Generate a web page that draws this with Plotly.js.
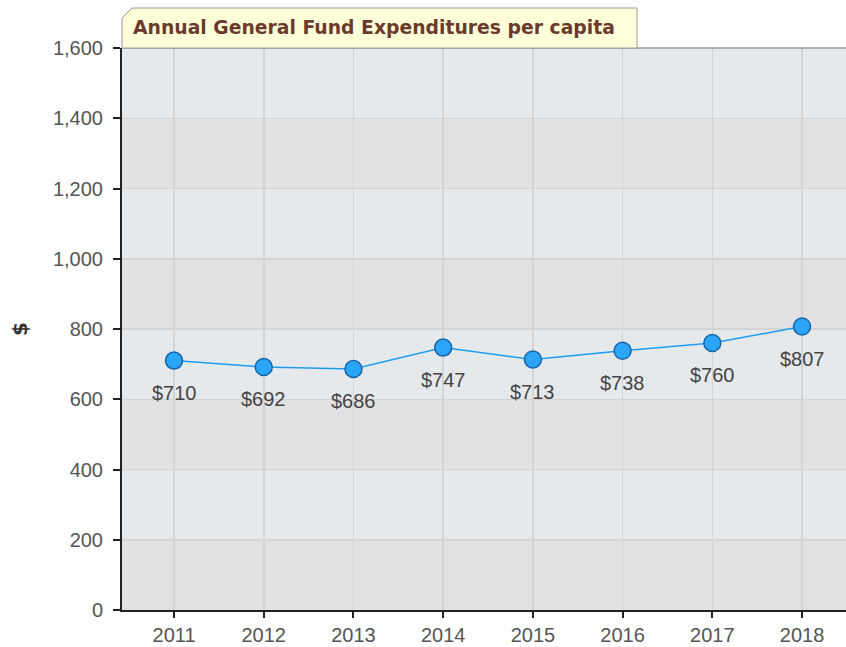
<!DOCTYPE html>
<html>
<head>
<meta charset="utf-8">
<script src="https://cdn.plot.ly/plotly-3.0.1.min.js"></script>
<style>html,body{margin:0;padding:0;background:#fff;}#chart{width:846px;height:647px;}</style>
</head>
<body>
<div id="chart"></div>
<script>
const years = ["2011","2012","2013","2014","2015","2016","2017","2018"];
const perCapita = [710, 692, 686, 747, 713, 738, 760, 807];
const dataLabels = ["$710","$692","$686","$747","$713","$738","$760","$807"];
const yTicks = [0, 200, 400, 600, 800, 1000, 1200, 1400, 1600];
const yTickText = ["0","200","400","600","800","1,000","1,200","1,400","1,600"];
const chartTitle = "Annual General Fund Expenditures per capita";
const yTitle = "$";

const bandShapes = [];
for (let i = 0; i < yTicks.length - 1; i++) {
  bandShapes.push({
    type: 'rect', xref: 'paper', yref: 'y', layer: 'below',
    x0: 0, x1: 1, y0: yTicks[i], y1: yTicks[i + 1],
    fillcolor: (i % 2 === 0) ? '#e2e2e4' : '#e6e9ec',
    line: {width: 0}
  });
}

const plotH = 562, plotW = 724;
const boxRight = (637 - 122) / plotW;
const boxTop = 1 + 40 / plotH;
const chX = 10 / plotW, chY = 10 / plotH;

const shapes = bandShapes.concat([
  {type: 'line', xref: 'paper', yref: 'paper', x0: 0, x1: 1, y0: 1, y1: 1,
   line: {color: '#9a9a9a', width: 1.5}},
  {type: 'path', xref: 'paper', yref: 'paper',
   path: `M 0 1 L 0 ${boxTop - chY} L ${chX} ${boxTop} L ${boxRight} ${boxTop} L ${boxRight} 1 Z`,
   fillcolor: '#ffffd9', line: {color: '#9a9a9a', width: 1}}
]);

const trace = {
  x: years, y: perCapita,
  type: 'scatter', mode: 'lines+markers',
  line: {color: '#1e9cf0', width: 1.5},
  marker: {size: 17, color: '#2aa5f7', line: {color: '#1a64a8', width: 1.5}},
  cliponaxis: false,
  hoverinfo: 'skip'
};

// category axis: annotation x uses the category index
const labelAnnotations = years.map((yr, i) => ({
  x: i, y: perCapita[i], xref: 'x', yref: 'y',
  text: dataLabels[i], showarrow: false,
  xanchor: 'center', yanchor: 'middle', yshift: -32,
  font: {family: 'Liberation Sans, Arial, sans-serif', size: 20, color: '#444'}
}));

const layout = {
  width: 846, height: 647,
  margin: {l: 122, r: 0, t: 48, b: 37, pad: 0},
  paper_bgcolor: '#ffffff', plot_bgcolor: '#e6e9ec',
  showlegend: false,
  font: {family: 'Liberation Sans, Arial, sans-serif', size: 20, color: '#555'},
  xaxis: {
    type: 'category', range: [-0.58, 7.49],
    showgrid: true, gridcolor: '#d4d4d4', gridwidth: 1.5,
    showline: true, linecolor: '#222', linewidth: 2,
    ticks: 'outside', ticklen: 6, tickcolor: '#222', tickwidth: 2,
    tickfont: {size: 20, color: '#555'},
    zeroline: false, fixedrange: true
  },
  yaxis: {
    range: [0, 1600], tickvals: yTicks, ticktext: yTickText,
    showgrid: true, gridcolor: '#d4d4d4', gridwidth: 1.5,
    showline: true, linecolor: '#222', linewidth: 2,
    ticks: 'outside', ticklen: 7, tickcolor: '#222', tickwidth: 2,
    ticklabelstandoff: 6,
    tickfont: {size: 20, color: '#555'},
    zeroline: false, fixedrange: true,
    title: {text: yTitle, font: {size: 20, color: '#333', family: 'DejaVu Sans, sans-serif', weight: 'bold'}, standoff: 20}
  },
  shapes: shapes,
  annotations: [{
    text: '<b>' + chartTitle + '</b>',
    xref: 'paper', yref: 'paper', x: 9 / plotW, y: 1 + 21 / plotH,
    xanchor: 'left', yanchor: 'middle', showarrow: false,
    font: {family: 'DejaVu Sans, Verdana, sans-serif', size: 18.8, color: '#6b3a2c'}
  }].concat(labelAnnotations)
};

Plotly.newPlot('chart', [trace], layout, {displayModeBar: false, staticPlot: true});
</script>
</body>
</html>
